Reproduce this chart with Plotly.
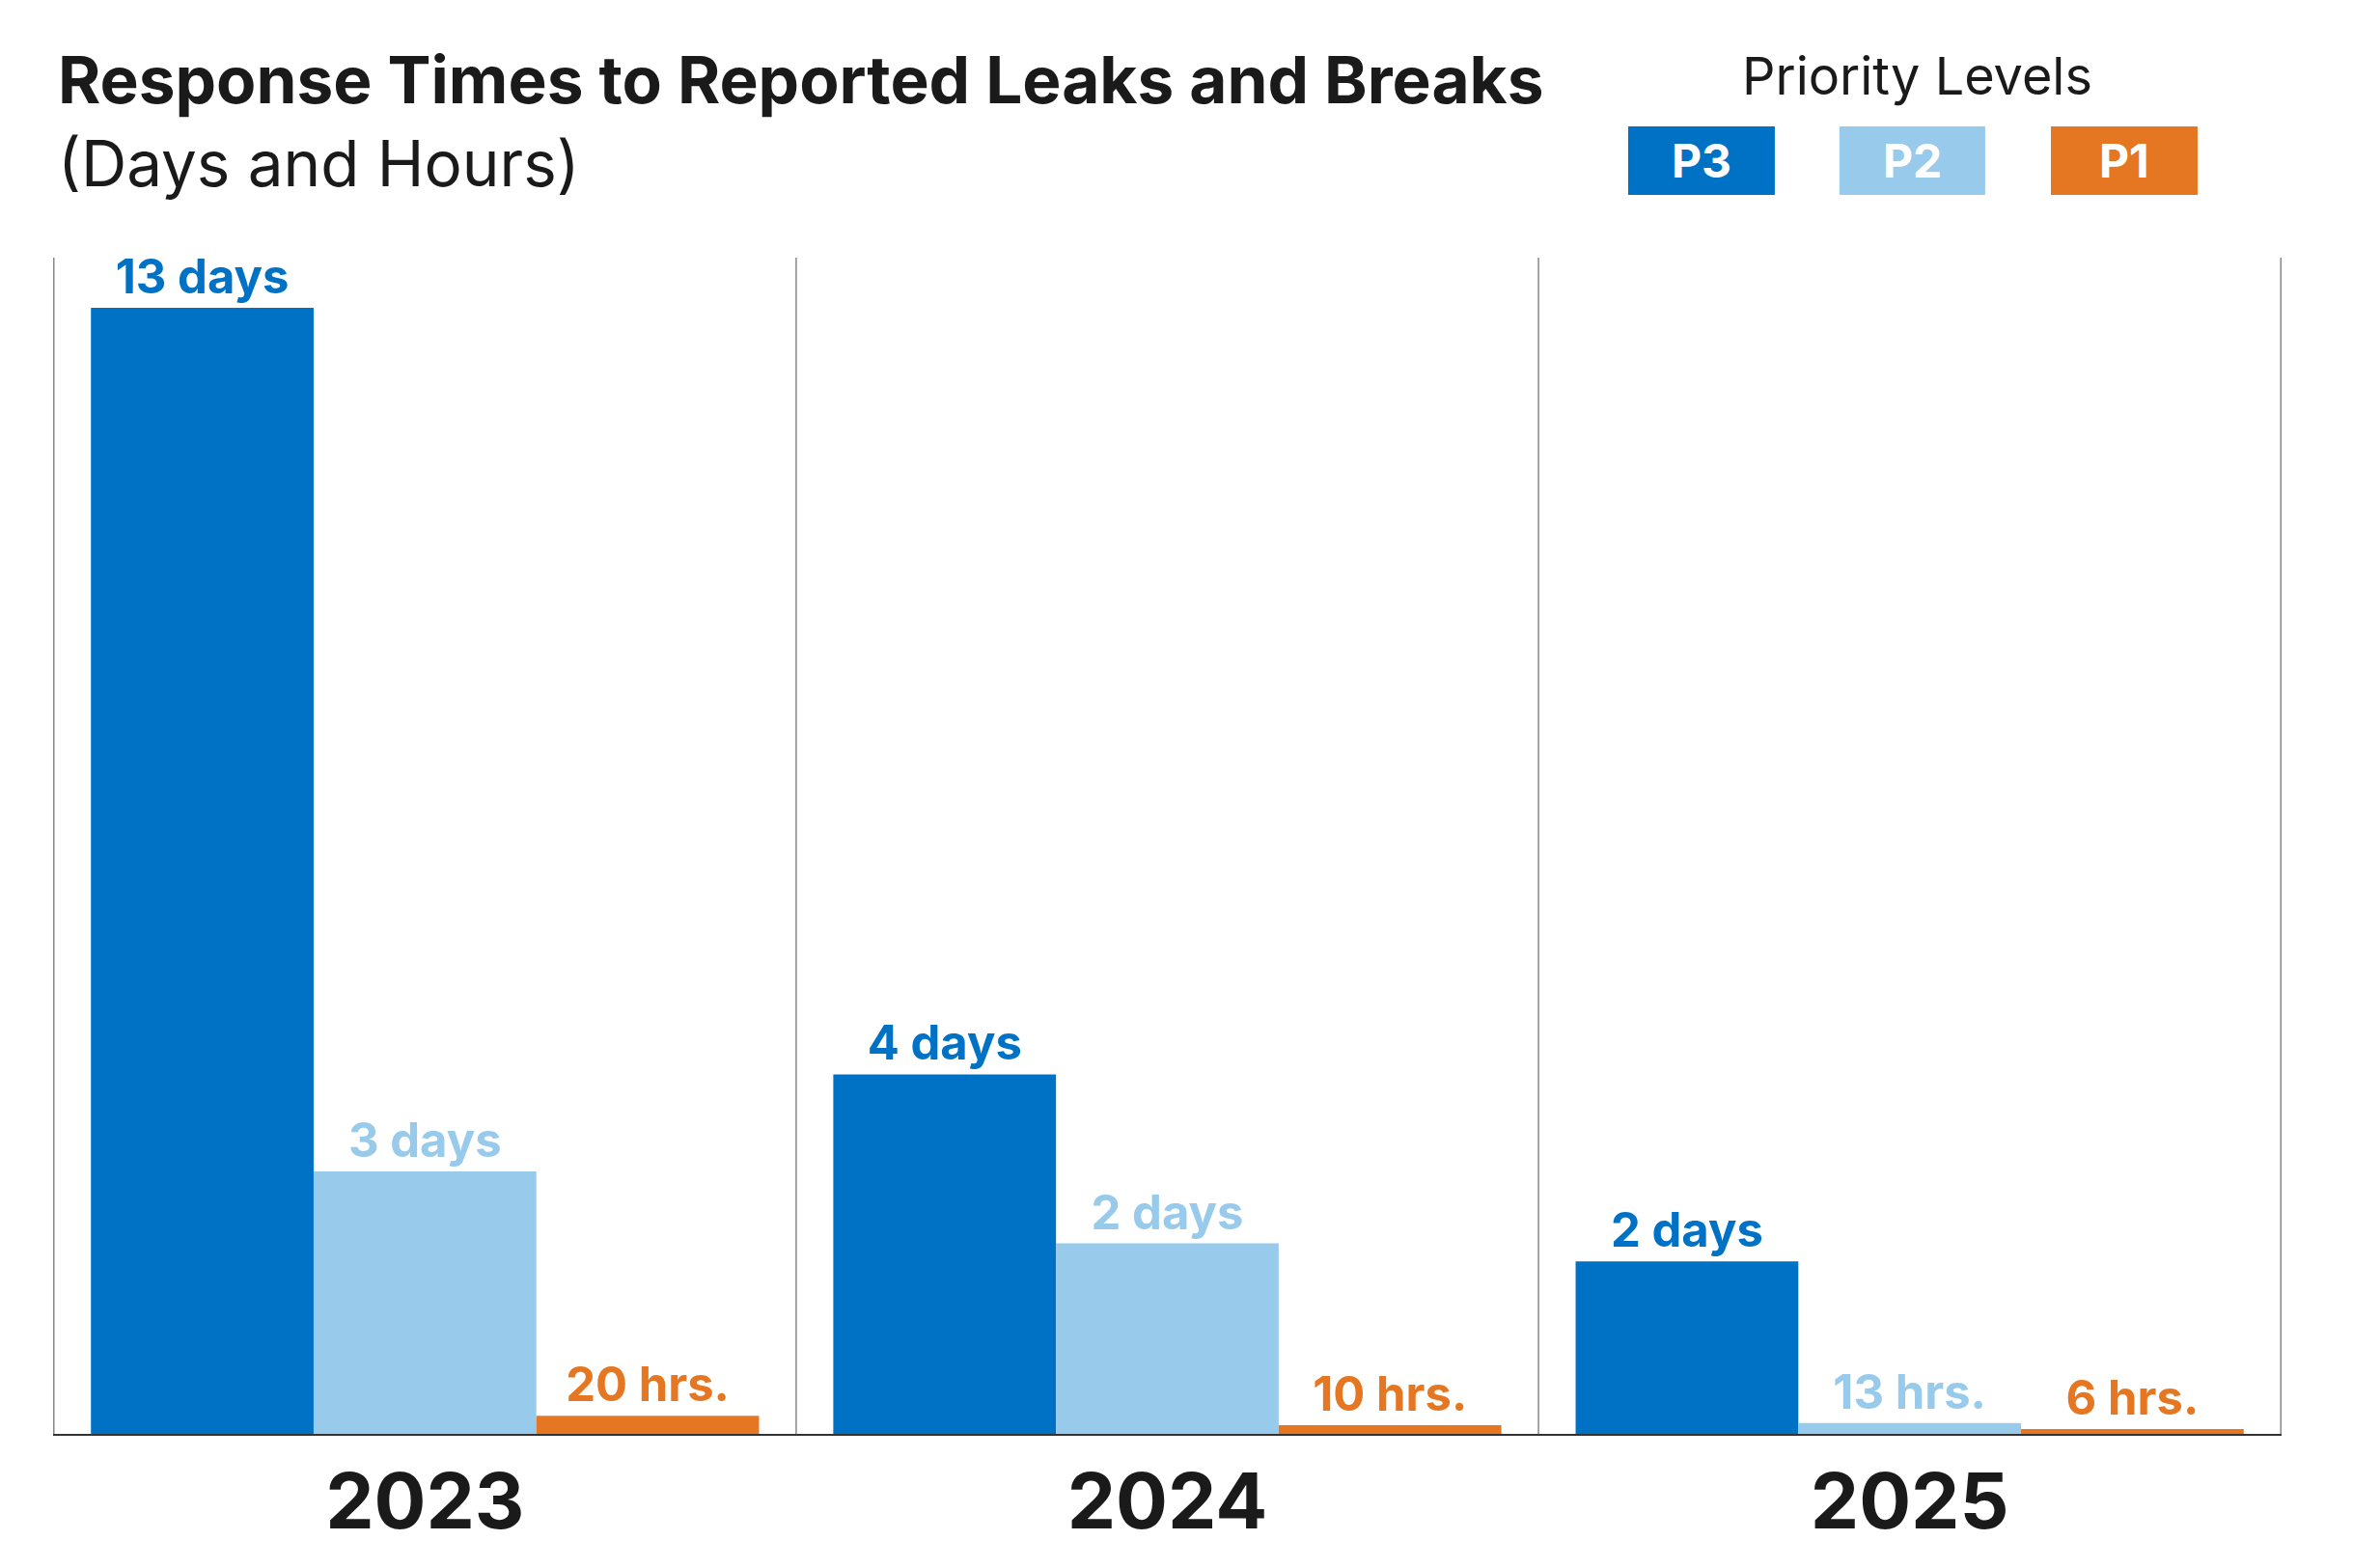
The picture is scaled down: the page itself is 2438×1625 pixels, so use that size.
import plotly.graph_objects as go

years = ['2023', '2024', '2025']
# bar heights, in days
p3_days = [13.0, 4.15, 1.99]
p2_days = [3.03, 2.2, 0.126]
p1_days = [0.21, 0.10, 0.056]
p3_labels = ['13 days', '4 days', '2 days']
p2_labels = ['3 days', '2 days', '13 hrs.']
p1_labels = ['20 hrs.', '10 hrs.', '6 hrs.']

c_p3 = '#0072C6'
c_p2 = '#97CAEB'
c_p1 = '#E67722'
FONT = 'Inter'

fig = go.Figure()
for name, vals, labels, col in [('P3', p3_days, p3_labels, c_p3),
                                ('P2', p2_days, p2_labels, c_p2),
                                ('P1', p1_days, p1_labels, c_p1)]:
    fig.add_trace(go.Bar(x=years, y=vals, name=name, marker_color=col,
                         marker_line_width=0, text=labels, textposition='outside',
                         textfont=dict(family=FONT, size=49, color=col, weight='bold'),
                         constraintext='none', cliponaxis=False, hoverinfo='skip'))

# page has an 8px body margin, so margins are shifted by that
fig.update_layout(
    width=2438, height=1625, barmode='group', bargap=0.1, bargroupgap=0,
    plot_bgcolor='white', paper_bgcolor='white', showlegend=False,
    margin=dict(l=47, r=82, t=259, b=147),
    font=dict(family=FONT, color='#1a1a1a'),
)
fig.update_yaxes(range=[0, 13.58], visible=False)
fig.update_xaxes(showline=True, linecolor='#333333', linewidth=2,
                 tickfont=dict(family=FONT, size=80, color='#1a1a1a', weight='bold'),
                 ticks='', ticklabelstandoff=0, automargin=False)

# separators between years
for xb in [-0.5, 0.5, 1.5, 2.5]:
    fig.add_shape(type='line', xref='x', yref='paper', x0=xb, x1=xb, y0=0, y1=1,
                  line=dict(color='#888888', width=1.5))

# title block
fig.add_annotation(text='<b>Response Times to Reported Leaks and Breaks</b>',
                   xref='paper', yref='paper', x=0.0013, y=1.1510,
                   xanchor='left', yanchor='middle', showarrow=False,
                   font=dict(family=FONT, size=67.5, color='#1a1a1a'))
fig.add_annotation(text='(Days and Hours)',
                   xref='paper', yref='paper', x=0.0013, y=1.0796,
                   xanchor='left', yanchor='middle', showarrow=False,
                   font=dict(family=FONT, size=65.5, color='#1a1a1a'))

# custom legend
fig.add_annotation(text='Priority Levels', xref='paper', yref='paper',
                   x=0.8363, y=1.1550, xanchor='center', yanchor='middle',
                   showarrow=False, font=dict(family=FONT, size=54, color='#1a1a1a'))
for name, col, x0, x1 in [('P3', c_p3, 0.7068, 0.7726),
                          ('P2', c_p2, 0.8016, 0.8670),
                          ('P1', c_p1, 0.8965, 0.9623)]:
    fig.add_shape(type='rect', xref='paper', yref='paper', x0=x0, x1=x1,
                  y0=1.0533, y1=1.1116, fillcolor=col, line_width=0)
    fig.add_annotation(text='<b>' + name + '</b>', xref='paper', yref='paper',
                       x=(x0 + x1) / 2, y=1.0824, xanchor='center', yanchor='middle',
                       showarrow=False, font=dict(family=FONT, size=48, color='white'))

fig.write_html('out.html')
